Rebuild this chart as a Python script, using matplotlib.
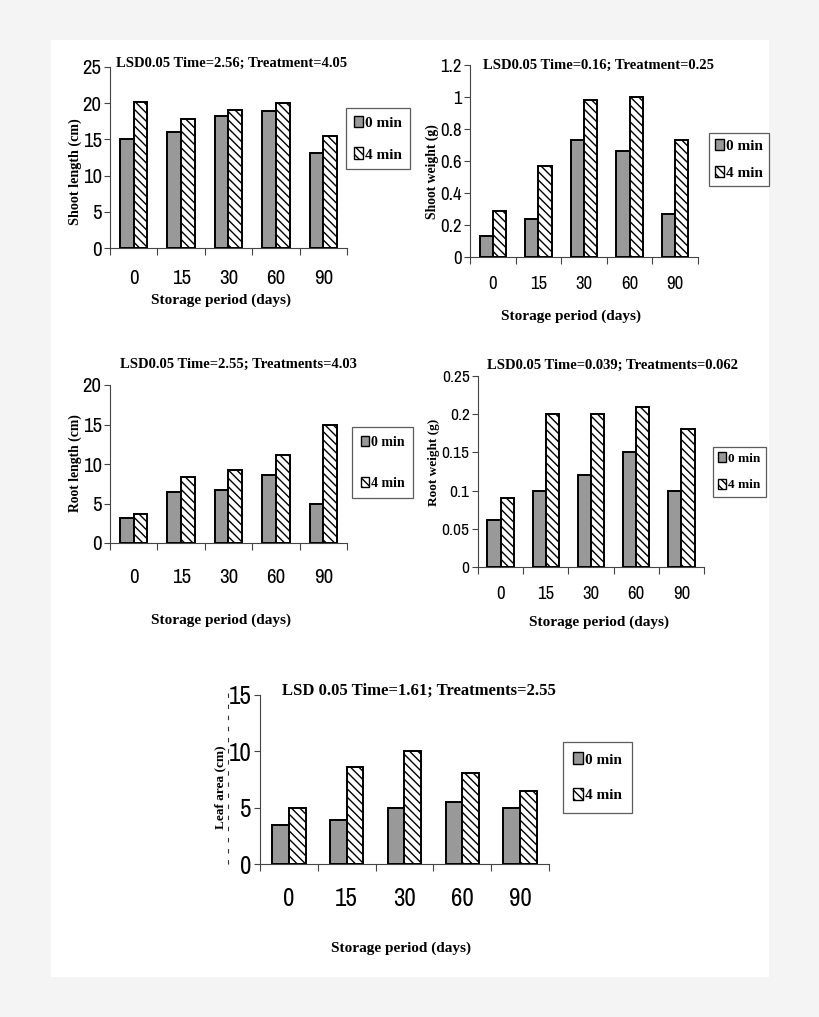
import matplotlib
matplotlib.use("Agg")
import matplotlib.pyplot as plt
from matplotlib.patches import Patch, Rectangle
from matplotlib.lines import Line2D
from matplotlib import font_manager
import numpy as np

# ---------------- data ----------------
days = ["0", "15", "30", "60", "90"]
series_names = ["0 min", "4 min"]

shoot_len_0 = [15.0, 16.0, 18.2, 18.9, 13.1]
shoot_len_4 = [20.2, 17.8, 19.1, 20.0, 15.5]

shoot_wt_0 = [0.13, 0.235, 0.73, 0.66, 0.27]
shoot_wt_4 = [0.29, 0.57, 0.98, 1.00, 0.73]

root_len_0 = [3.2, 6.5, 6.7, 8.6, 4.9]
root_len_4 = [3.7, 8.4, 9.3, 11.1, 14.9]

root_wt_0 = [0.062, 0.10, 0.12, 0.15, 0.10]
root_wt_4 = [0.09, 0.20, 0.20, 0.21, 0.18]

leaf_area_0 = [3.5, 3.9, 5.0, 5.5, 5.0]
leaf_area_4 = [5.0, 8.6, 10.0, 8.1, 6.5]

titles = [
    "LSD0.05 Time=2.56; Treatment=4.05",
    "LSD0.05 Time=0.16; Treatment=0.25",
    "LSD0.05 Time=2.55; Treatments=4.03",
    "LSD0.05 Time=0.039; Treatments=0.062",
    "LSD 0.05 Time=1.61; Treatments=2.55",
]
ylabels = ["Shoot length (cm)", "Shoot weight (g)", "Root length (cm)",
           "Root weight (g)", "Leaf area (cm)"]
xlabel = "Storage period (days)"

yticks_list = [
    [0, 5, 10, 15, 20, 25],
    [0, 0.2, 0.4, 0.6, 0.8, 1.0, 1.2],
    [0, 5, 10, 15, 20],
    [0, 0.05, 0.10, 0.15, 0.20, 0.25],
    [0, 5, 10, 15],
]
ytick_labels = [
    ["0", "5", "10", "15", "20", "25"],
    ["0", "0.2", "0.4", "0.6", "0.8", "1", "1.2"],
    ["0", "5", "10", "15", "20"],
    ["0", "0.05", "0.1", "0.15", "0.2", "0.25"],
    ["0", "5", "10", "15"],
]
data0 = [shoot_len_0, shoot_wt_0, root_len_0, root_wt_0, leaf_area_0]
data4 = [shoot_len_4, shoot_wt_4, root_len_4, root_wt_4, leaf_area_4]

# ---------------- layout (pixels) ----------------
W, H = 820, 1017
def fx(p): return p / W
def fy(p): return 1 - p / H

panels = [
    dict(ax=(110, 67, 347, 248), leg=(346, 108), legfs=11, ls=1.15, bp=0.5,
         title=(232, 63, 10.5), xl=(221, 300), yl=(75, 172), ylfs=10.2,
         tfs=15, ytfs=15, xoff=31),
    dict(ax=(470, 65, 698, 257), leg=(709, 133), legfs=11, ls=0.83, bp=0.38,
         title=(599, 65, 10.5), xl=(571, 316), yl=(432, 172), ylfs=9.8,
         tfs=13.5, ytfs=13.5, xoff=28),
    dict(ax=(110, 385, 347, 543), leg=(352, 427), legfs=10, ls=2.0, bp=0.62,
         title=(238, 364, 10.5), xl=(221, 620), yl=(75, 463), ylfs=9.8,
         tfs=15, ytfs=15, xoff=35),
    dict(ax=(478, 376, 704, 567), leg=(713, 447), legfs=9.5, ls=1.05, bp=0.4,
         title=(613, 365, 10.5), xl=(599, 622), yl=(434, 462), ylfs=9.5,
         tfs=13.5, ytfs=12.5, xoff=28),
    dict(ax=(260, 695, 549, 864), leg=(563, 742), legfs=11, ls=1.42, bp=0.68,
         title=(419, 691, 12), xl=(401, 948), yl=(220, 787), ylfs=9.5,
         tfs=18, ytfs=18, xoff=36),
]

plt.rcParams["hatch.linewidth"] = 1.0
plt.rcParams["hatch.color"] = "black"
avail = {f.name for f in font_manager.fontManager.ttflist}
def pick(names):
    got = [n for n in names if n in avail]
    return got + ["DejaVu Sans"]
serif = pick(["Times New Roman", "Tinos", "Liberation Serif", "DejaVu Serif"])
narrow = pick(["Arial Narrow", "Liberation Sans Narrow", "Archivo Narrow",
               "PT Sans Narrow", "Roboto Condensed", "Arimo", "Liberation Sans"])

fig = plt.figure(figsize=(W / 100, H / 100), dpi=100)
fig.patch.set_facecolor("#f4f4f4")
bg = Rectangle((fx(51), fy(977)), (769 - 51) / W, (977 - 40) / H,
               transform=fig.transFigure, facecolor="white",
               edgecolor="none", zorder=-10)
fig.patches.append(bg)

gray = "#999999"
bw = 0.29
x = np.arange(len(days))

for i, p in enumerate(panels):
    l, t, r, b = p["ax"]
    ax = fig.add_axes([fx(l), fy(b), (r - l) / W, (b - t) / H])
    ax.set_facecolor("none")
    ax.bar(x - bw / 2, data0[i], width=bw, color=gray, edgecolor="black",
           linewidth=1.4, zorder=3)
    ax.bar(x + bw / 2, data4[i], width=bw, color="white", edgecolor="black",
           hatch="\\\\\\\\", linewidth=1.4, zorder=3)
    yt = yticks_list[i]
    ax.set_ylim(0, yt[-1])
    ax.set_xlim(-0.5, len(days) - 0.5)
    ax.set_yticks(yt)
    ax.set_yticklabels(ytick_labels[i], family=narrow, fontsize=p["ytfs"])
    ax.set_xticks(np.arange(-0.5, len(days), 1.0))
    ax.set_xticklabels([])
    ax.set_xticks(x, minor=True)
    fpx = p["tfs"] * 100 / 72
    pad = max((p["xoff"] - fpx * 0.5) * 0.72, 2)
    ax.set_xticklabels(days, minor=True, family=narrow, fontsize=p["tfs"])
    ax.tick_params(axis="x", which="major", direction="out", length=5,
                   width=0.8, color="#444444")
    ax.tick_params(axis="x", which="minor", length=0, pad=pad)
    ax.tick_params(axis="y", direction="out", length=4, width=0.8,
                   color="#444444", pad=2)
    for s in ["top", "right"]:
        ax.spines[s].set_visible(False)
    for s in ["left", "bottom"]:
        ax.spines[s].set_color("#444444")
        ax.spines[s].set_linewidth(0.8)

    tx, ty, tsz = p["title"]
    fig.text(fx(tx), fy(ty), titles[i], ha="center", va="center",
             family=serif, weight="bold", fontsize=tsz)
    fig.text(fx(p["xl"][0]), fy(p["xl"][1]), xlabel, ha="center", va="center",
             family=serif, weight="bold", fontsize=11)
    fig.text(fx(p["yl"][0]), fy(p["yl"][1]), ylabels[i], ha="center",
             va="center", rotation=90, family=serif, weight="bold",
             fontsize=p["ylfs"])

    lx0, ly0 = p["leg"]
    handles = [Patch(facecolor=gray, edgecolor="black", linewidth=1.0),
               Patch(facecolor="white", edgecolor="black", hatch="\\\\\\\\",
                     linewidth=1.0)]
    leg = fig.legend(handles, series_names, loc="upper left",
                     bbox_to_anchor=(fx(lx0), fy(ly0)),
                     borderaxespad=0, frameon=True,
                     fancybox=False, handlelength=0.6, handleheight=0.8,
                     handletextpad=0.15, borderpad=p["bp"],
                     labelspacing=p["ls"],
                     prop=dict(family=serif, weight="bold", size=p["legfs"]))
    leg.get_frame().set_edgecolor("#333333")
    leg.get_frame().set_linewidth(0.9)
    leg.get_frame().set_facecolor("white")

# dashed scan line to the left of the leaf-area panel
fig.add_artist(Line2D([fx(228), fx(228)], [fy(693), fy(870)],
                      transform=fig.transFigure, color="#333333",
                      linewidth=0.8, linestyle=(0, (4, 6))))

fig.savefig("out.png", dpi=100, facecolor=fig.get_facecolor())
